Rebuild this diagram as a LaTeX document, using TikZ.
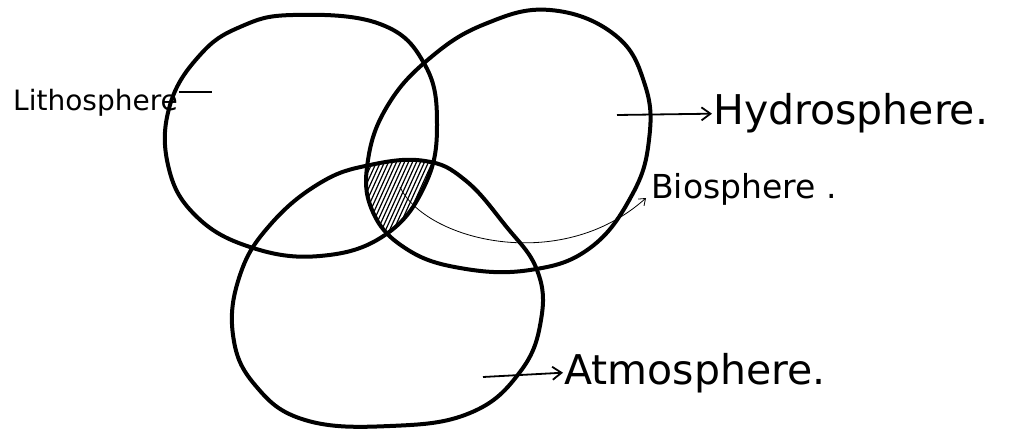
\documentclass[tikz,border=0pt]{standalone}
\usepackage{fontspec}
\setmainfont{DejaVu Sans}
\usepackage{tikz}
\usetikzlibrary{arrows.meta}
\newcommand{\lithoblob}{plot[smooth cycle,tension=0.7] coordinates {(293,15) (380,24) (425,65) (437,125) (425,185) (385,235) (320,256) (250,247) (195,215) (168,165) (170,105) (200,55) (240,27)}}
\newcommand{\hydroblob}{plot[smooth cycle,tension=0.7] coordinates {(550,10) (615,35) (645,85) (649,140) (632,195) (590,248) (530,270) (460,268) (405,248) (372,210) (368,160) (388,105) (430,58) (485,24)}}
\newcommand{\atmoblob}{plot[smooth cycle,tension=0.7] coordinates {(425,161) (465,180) (505,225) (537,270) (541,320) (520,372) (470,413) (390,426) (305,420) (255,385) (233,335) (240,275) (270,225) (320,183) (370,165)}}
\tikzset{
  blob/.style={line width=4pt},
  sphere/.style={font=\fontsize{41}{43}\selectfont,inner sep=1pt,anchor=base west},
  pointer/.style={line width=1.8pt,-{Straight Barb[length=9pt,width=13pt]}},
}

\begin{document}
\begin{tikzpicture}[x=1pt,y=-1pt]
\useasboundingbox (0,0) rectangle (1010,433);
% ---- BIOSFERA (czesc wspolna) ----
\begin{scope}
  \clip \lithoblob;
  \clip \hydroblob;
  \clip \atmoblob;
  \foreach \x in {280,284,...,460}{
    \draw[line width=1.2pt] (\x,260) -- ++(50,-110);}
\end{scope}
% ---- KOLA ----
\draw[blob] \lithoblob;
\draw[blob] \hydroblob;
\draw[blob] \atmoblob;
% ---- PODPISY ----
\node[sphere,font=\fontsize{28}{30}\selectfont] (litho) at (12,111) {Lithosphere};
\node[sphere] (hydro) at (712,125) {Hydrosphere.};
\node[sphere,font=\fontsize{33}{35}\selectfont] (bio) at (650,198) {Biosphere .};
\node[sphere] (atmo) at (563,384) {Atmosphere.};
\coordinate (litho end) at (212,92);
\coordinate (hydro start) at (617,115);
\coordinate (atmo start) at (483,377);
\coordinate (bio start) at (400,187);
\draw[line width=1.8pt] (litho.east |- litho end) -- (litho end);
\draw[pointer] (hydro start) -- (hydro.west);
\draw[pointer] (atmo start) -- (atmo.west);
\draw[line width=0.8pt,-{Straight Barb[length=6pt,width=9pt]}] (bio start) .. controls (425,240) and (560,275) .. ([xshift=-4pt]bio.base west);
\end{tikzpicture}
\end{document}
